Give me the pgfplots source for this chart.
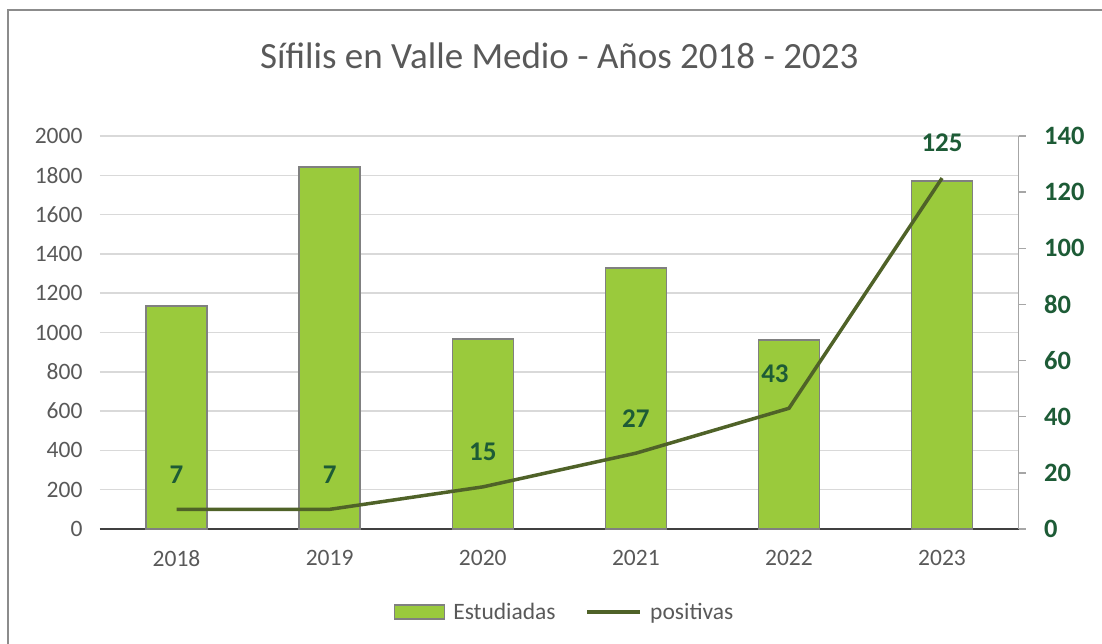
\documentclass[border=0pt]{standalone}
\usepackage{fontspec}
\setmainfont{Carlito}
\usepackage{pgfplots}
\pgfplotsset{compat=1.18}
\definecolor{barfill}{HTML}{9ACA3C}
\definecolor{baredge}{HTML}{808080}
\definecolor{linec}{HTML}{4F6228}
\definecolor{labc}{HTML}{1D5B36}
\definecolor{txtg}{HTML}{595959}
\definecolor{gridc}{HTML}{D9D9D9}
\definecolor{borderc}{HTML}{8C8C8C}
\pgfplotstableread{
x y
0 1135
1 1842
2 967
3 1328
4 962
5 1770
}\estudiadas
\pgfplotstableread{
x y dx
0 7 0
1 7 0
2 15 0
3 27 0
4 43 -14
5 125 0
}\positivas
\begin{document}
\begin{tikzpicture}[x=1pt,y=1pt]
\useasboundingbox (-100,-114) rectangle (1002,529);
\draw[color=borderc, line width=1.5pt] (-92,-300) rectangle (1200,519);
\begin{axis}[
  at={(0,0)}, anchor=south west, scale only axis,
  width=918.6pt, height=393pt,
  xmin=-0.5, xmax=5.5, ymin=0, ymax=2000,
  ytick={0,200,...,2000},
  xtick={0,1,2,3,4,5}, xticklabels={2018,2019,2020,2021,2022,2023},
  ymajorgrids, grid style={gridc, line width=1.5pt},
  axis x line*=bottom, axis y line*=left,
  axis line style={-},
  y axis line style={draw=none},
  x axis line style={color=black!75, line width=1.5pt},
  major tick length=0pt,
  tick label style={font=\fontsize{23.5}{23.5}\selectfont, color=txtg},
  yticklabel style={xshift=-14pt},
  xticklabel style={yshift=-18pt},
  /pgf/number format/assume math mode=true,
  /pgf/number format/set thousands separator={},
  title={Sífilis en Valle Medio - Años 2018 - 2023},
  title style={at={(0.5,1.19)}, anchor=center, font=\fontsize{37}{37}\selectfont, color=txtg},
]
\addplot[ybar, bar width=61pt, fill=barfill, draw=baredge, line width=1.5pt] table[x=x,y=y]{\estudiadas};
\end{axis}
\begin{axis}[
  at={(0,0)}, anchor=south west, scale only axis,
  width=918.6pt, height=393pt,
  xmin=-0.5, xmax=5.5, ymin=0, ymax=140,
  ytick={0,20,...,140},
  axis x line=none, axis y line*=right,
  axis line style={-},
  y axis line style={color=black!35, line width=1.5pt},
  major tick length=7pt, tick align=outside,
  ytick style={color=black!35, line width=1.5pt},
  yticklabel style={font=\fontsize{26.5}{26.5}\selectfont\bfseries, color=labc, xshift=15pt},
  /pgf/number format/assume math mode=true,
  legend style={at={(0.509,-0.211)}, anchor=center, draw=none, fill=none,
    font=\fontsize{23.5}{23.5}\selectfont, text=txtg, legend columns=2,
    /tikz/every even column/.append style={column sep=22pt},
    nodes={inner xsep=8pt}},
  legend cell align=left,
]
\addlegendimage{legend image code/.code={\draw[fill=barfill, draw=baredge, line width=1.5pt] (0pt,-7pt) rectangle (50pt,7pt);}}
\addlegendentry{Estudiadas}
\addplot[linec, line width=3.5pt, mark=none,
  legend image code/.code={\draw[linec, line width=3.5pt] (0pt,0pt) -- (53pt,0pt);},
  visualization depends on={\thisrow{dx} \as \dx},
  nodes near coords,
  nodes near coords style={font=\fontsize{27}{27}\selectfont\bfseries, color=labc, anchor=center, yshift=35pt, xshift=\dx pt,
    /pgf/number format/assume math mode=true},
] table[x=x,y=y]{\positivas};
\addlegendentry{positivas}
\end{axis}
\end{tikzpicture}
\end{document}
